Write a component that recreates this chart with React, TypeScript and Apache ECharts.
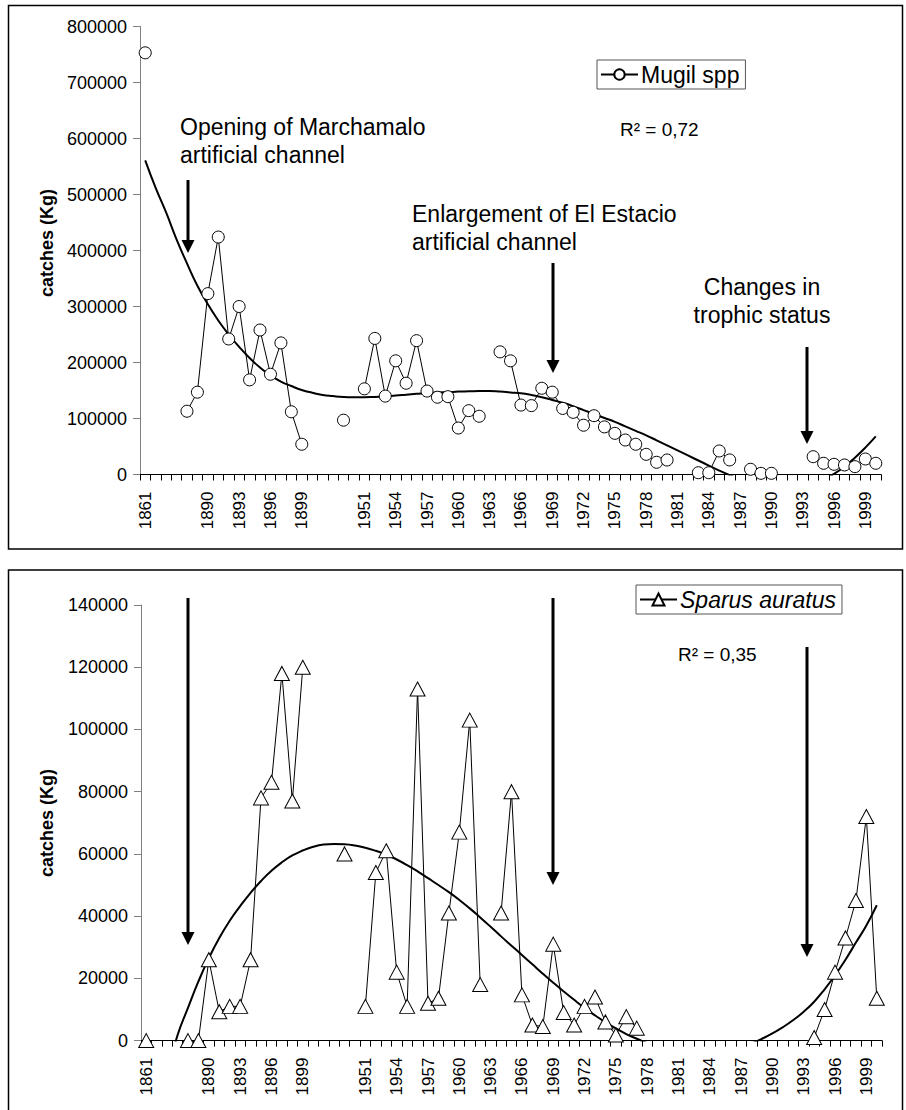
import React, { useEffect, useRef } from 'react';
import * as echarts from 'echarts';

const years: string[] = [
  '1861', '', '', '', '', '',
  '1890', '1891', '1892', '1893', '1894', '1895', '1896', '1897', '1898', '1899',
  '', '', '', '', '',
  '1951', '1952', '1953', '1954', '1955', '1956', '1957', '1958', '1959',
  '1960', '1961', '1962', '1963', '1964', '1965', '1966', '1967', '1968', '1969',
  '1970', '1971', '1972', '1973', '1974', '1975', '1976', '1977', '1978', '1979',
  '1980', '1981', '1982', '1983', '1984', '1985', '1986', '1987', '1988', '1989',
  '1990', '1991', '1992', '1993', '1994', '1995', '1996', '1997', '1998', '1999',
  '2000',
];

const mugil: (number | null)[] = [
  753000, null, null, null, 113000, 147000,
  323000, 424000, 242000, 300000, 169000, 258000, 179000, 235000, 112000, 54000,
  null, null, null, 97000, null,
  153000, 243000, 140000, 203000, 163000, 239000, 149000, 138000, 139000,
  83000, 114000, 104000, null, 219000, 203000, 124000, 123000, 154000, 147000,
  118000, 111000, 88000, 105000, 85000, 73500, 61600, 54000, 36000, 21800,
  25900, null, null, 3200, 3200, 42000, 26000, null, 9300, 2100,
  2100, null, null, null, 31800, 20000, 18200, 17000, 14000, 27700,
  20000,
];

const mugilTrend: number[] = [
  561000, 512000, 468000, 420000, 377000, 337000,
  304000, 275000, 250000, 228000, 208000, 191000, 177000, 166000, 158000, 151000,
  146000, 142000, 140000, 138500, 138000,
  138000, 138500, 139000, 141000, 142500, 144000, 145500, 146500, 147000,
  148000, 148500, 149000, 149000, 148000, 146500, 145000, 142000, 138000, 133000,
  128000, 122000, 115000, 108000, 101000, 94000, 86000, 78000, 70000, 61000,
  52000, 43000, 34000, 25000, 16000, 7000, -1000, -8000, -14000, -19000,
  -22000, -24000, -24000, -22000, -17000, -9000, 1000, 14000, 30000, 48000,
  68000,
];

const sparus: (number | null)[] = [
  0, null, null, null, 0, 0,
  26000, 9300, 11000, 11000, 26000, 78000, 83000, 118000, 77000, 120000,
  null, null, null, 60000, null,
  11000, 54000, 61000, 22000, 11000, 113000, 12000, 13600, 41000,
  67000, 103000, 18000, null, 41000, 80000, 14700, 5000, 4500, 31000,
  9000, 5000, 11000, 14000, 6000, 1800, 7700, 4000, null, null,
  null, null, null, null, null, null, null, null, null, null,
  null, null, null, null, 1000, 10000, 22000, 33000, 45000, 72000,
  13600,
];

const sparusTrend: number[] = [
  -42000, -26000, -11000, 1700, 10500, 19000,
  26500, 33000, 38500, 43200, 47500, 51300, 54600, 57300, 59500, 61100,
  62300, 63000, 63200, 63100, 62700,
  62000, 61000, 59800, 58200, 56400, 54400, 52200, 50000, 47700,
  45200, 42500, 39600, 36600, 33500, 30500, 27500, 24500, 21500, 18600,
  15800, 13100, 10500, 8100, 5900, 3900, 2100, 600, -800, -2000,
  -3000, -3800, -4300, -4500, -4400, -4000, -3200, -2200, -900, 600,
  2300, 4300, 6600, 9300, 12500, 16500, 21000, 26000, 31500, 37000,
  43500,
];

const FONT = "'Liberation Sans', Arial, Helvetica, sans-serif";

function arrow(x: number, top: number, tip: number) {
  return [
    { type: 'line', shape: { x1: x, y1: top, x2: x, y2: tip - 10 }, style: { stroke: '#000', lineWidth: 3 } },
    { type: 'polygon', shape: { points: [[x - 6.5, tip - 13], [x + 6.5, tip - 13], [x, tip]] }, style: { fill: '#000' } },
  ];
}

function txt(text: string, x: number, y: number, size: number, align = 'left', lh = 28) {
  return {
    type: 'text',
    x,
    y,
    style: {
      text,
      fill: '#000',
      font: `${size}px ${FONT}`,
      align,
      verticalAlign: 'top',
      lineHeight: lh,
    },
  };
}

export default function App() {
  const ref = useRef<HTMLDivElement>(null);
  useEffect(() => {
    if (!ref.current) return;
    const chart = echarts.init(ref.current, null, { renderer: 'svg' });

    const xAxisBase = (gridIndex: number) => ({
      type: 'category',
      gridIndex,
      data: years,
      boundaryGap: true,
      axisLine: { show: true, lineStyle: { color: '#000', width: 1 } },
      axisTick: { show: true, interval: 0, length: 6, lineStyle: { color: '#000' } },
      axisLabel: { interval: 2, rotate: 90, fontSize: 17, margin: 17, color: '#000', fontFamily: FONT },
      splitLine: { show: false },
    });
    const yAxisBase = (gridIndex: number, max: number, interval: number) => ({
      type: 'value',
      gridIndex,
      min: 0,
      max,
      interval,
      axisLine: { show: true, lineStyle: { color: '#808080', width: 1 } },
      axisTick: { show: true, length: 7, lineStyle: { color: '#808080' } },
      axisLabel: {
        fontSize: 18,
        margin: 13,
        color: '#000',
        fontFamily: FONT,
        formatter: (v: number) => String(v),
      },
      splitLine: { show: false },
    });

    const option: any = {
      animation: false,
      backgroundColor: '#fff',
      grid: [
        { left: 140, top: 26.5, width: 741, height: 448 },
        { left: 141, top: 605, width: 741, height: 435.6 },
      ],
      xAxis: [xAxisBase(0), xAxisBase(1)],
      yAxis: [yAxisBase(0, 800000, 100000), yAxisBase(1, 140000, 20000)],
      legend: [
        {
          data: ['Mugil spp'],
          left: 597,
          top: 60,
          itemWidth: 37,
          itemHeight: 13,
          itemGap: 0,
          padding: [3, 6, 3, 3],
          borderColor: '#555',
          borderWidth: 1,
          selectedMode: false,
          textStyle: { fontSize: 23, color: '#000', fontFamily: FONT, padding: [0, 0, 0, -2] },
        },
        {
          data: ['Sparus auratus'],
          left: 636,
          top: 585,
          itemWidth: 37,
          itemHeight: 15,
          itemGap: 0,
          padding: [3, 6, 3, 3],
          borderColor: '#555',
          borderWidth: 1,
          selectedMode: false,
          textStyle: { fontSize: 23, color: '#000', fontStyle: 'italic', fontFamily: FONT, padding: [0, 0, 0, -2] },
        },
      ],
      series: [
        {
          name: 'Mugil trend',
          type: 'line',
          xAxisIndex: 0,
          yAxisIndex: 0,
          data: mugilTrend,
          smooth: true,
          showSymbol: false,
          symbol: 'none',
          clip: true,
          lineStyle: { color: '#000', width: 2 },
          z: 2,
        },
        {
          name: 'Mugil spp',
          type: 'line',
          xAxisIndex: 0,
          yAxisIndex: 0,
          data: mugil,
          connectNulls: false,
          symbol: 'circle',
          symbolSize: 12,
          showAllSymbol: true,
          lineStyle: { color: '#000', width: 1 },
          itemStyle: { color: '#fff', borderColor: '#000', borderWidth: 1 },
          z: 3,
        },
        {
          name: 'Sparus trend',
          type: 'line',
          xAxisIndex: 1,
          yAxisIndex: 1,
          data: sparusTrend,
          smooth: true,
          showSymbol: false,
          symbol: 'none',
          clip: true,
          lineStyle: { color: '#000', width: 2 },
          z: 2,
        },
        {
          name: 'Sparus auratus',
          type: 'line',
          xAxisIndex: 1,
          yAxisIndex: 1,
          data: sparus,
          connectNulls: false,
          symbol: 'triangle',
          symbolSize: [15, 14],
          showAllSymbol: true,
          lineStyle: { color: '#000', width: 1 },
          itemStyle: { color: '#fff', borderColor: '#000', borderWidth: 1 },
          z: 3,
        },
      ],
      graphic: [
        { type: 'rect', shape: { x: 8.5, y: 5.5, width: 894, height: 543.5 }, style: { fill: 'none', stroke: '#000', lineWidth: 1.5 }, silent: true },
        { type: 'rect', shape: { x: 8.5, y: 570, width: 894, height: 560 }, style: { fill: 'none', stroke: '#000', lineWidth: 1.5 }, silent: true },
        {
          type: 'text', x: 47, y: 243, rotation: Math.PI / 2,
          style: { text: 'catches (Kg)', fill: '#000', font: `bold 18px ${FONT}`, align: 'center', verticalAlign: 'middle' },
        },
        {
          type: 'text', x: 47, y: 823, rotation: Math.PI / 2,
          style: { text: 'catches (Kg)', fill: '#000', font: `bold 18px ${FONT}`, align: 'center', verticalAlign: 'middle' },
        },
        txt('Opening of Marchamalo\nartificial channel', 180, 113, 23),
        txt('Enlargement of El Estacio\nartificial channel', 412, 200, 23),
        txt('Changes in\ntrophic status', 762, 273, 23, 'center'),
        txt('R² = 0,72', 620, 118, 19, 'left', 22),
        txt('R² = 0,35', 678, 643, 19, 'left', 22),
        ...arrow(188, 180, 253),
        ...arrow(553, 263, 373),
        ...arrow(807, 347, 444),
        ...arrow(188, 598, 945),
        ...arrow(553, 598, 885),
        ...arrow(807, 647, 957),
      ],
    };
    chart.setOption(option);
    return () => chart.dispose();
  }, []);

  return (
    <div
      ref={ref}
      style={{ position: 'absolute', left: 0, top: 0, width: 906, height: 1110, background: '#fff' }}
    />
  );
}
